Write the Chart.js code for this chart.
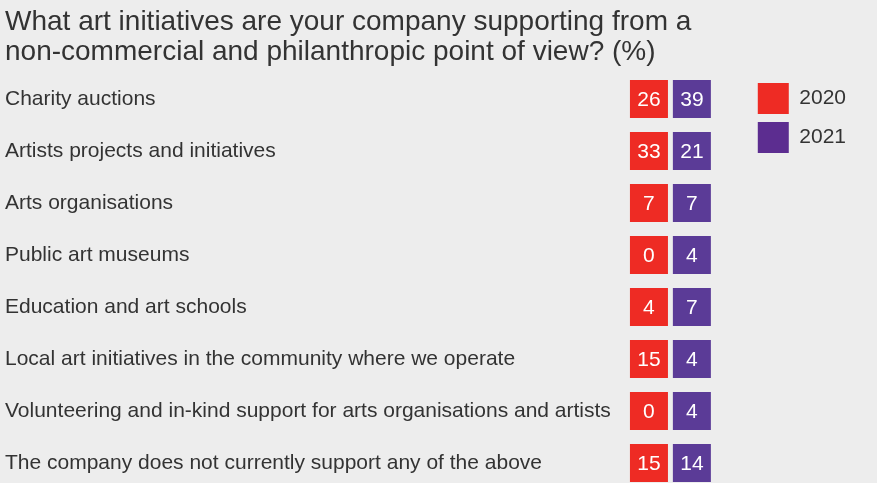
<!DOCTYPE html>
<html>
<head>
<meta charset="utf-8">
<script src="https://cdn.jsdelivr.net/npm/chart.js@4.4.0/dist/chart.umd.min.js"></script>
<style>
  html, body { margin: 0; padding: 0; background: #ededed; }
  #chart-box { width: 877px; height: 483px; }
</style>
</head>
<body>
<div id="chart-box"><canvas id="initiatives-chart"></canvas></div>
<script>
var titleLines = [
  'What art initiatives are your company supporting from a',
  'non-commercial and philanthropic point of view? (%)'
];
var categories = [
  'Charity auctions',
  'Artists projects and initiatives',
  'Arts organisations',
  'Public art museums',
  'Education and art schools',
  'Local art initiatives in the community where we operate',
  'Volunteering and in-kind support for arts organisations and artists',
  'The company does not currently support any of the above'
];
var years = ['2020', '2021'];
var values2020 = [26, 33, 7, 0, 4, 15, 0, 15];
var values2021 = [39, 21, 7, 4, 7, 4, 4, 14];

var cellColors = ['#ee2b24', '#5b3b97'];
var legendColors = ['#ee2b24', '#5c2d90'];
var textColor = '#333333';
var fontFamily = '"Liberation Sans", Arial, Helvetica, sans-serif';

// one square per category, placed in the year's column
function toCells(values, column) {
  var cells = [];
  for (var i = 0; i < values.length; i++) {
    cells.push({x: column, y: i, value: values[i]});
  }
  return cells;
}

// writes each value in the middle of its square
var cellLabels = {
  id: 'cellLabels',
  afterDatasetsDraw: function(chart) {
    var ctx = chart.ctx;
    ctx.save();
    ctx.font = '21px ' + fontFamily;
    ctx.fillStyle = '#ffffff';
    ctx.textAlign = 'center';
    ctx.textBaseline = 'middle';
    chart.data.datasets.forEach(function(dataset, d) {
      chart.getDatasetMeta(d).data.forEach(function(point, i) {
        ctx.fillText(String(dataset.data[i].value), point.x, point.y + 1);
      });
    });
    ctx.restore();
  }
};

var cellRadius = 19 * Math.SQRT2; // rect point style -> 38px square

var chart = new Chart(document.getElementById('initiatives-chart'), {
  type: 'scatter',
  data: {
    datasets: [
      {label: years[0], data: toCells(values2020, 0), backgroundColor: cellColors[0], borderWidth: 0,
        pointStyle: 'rect', pointRadius: cellRadius, pointHoverRadius: cellRadius},
      {label: years[1], data: toCells(values2021, 1), backgroundColor: cellColors[1], borderWidth: 0,
        pointStyle: 'rect', pointRadius: cellRadius, pointHoverRadius: cellRadius}
    ]
  },
  options: {
    responsive: true,
    maintainAspectRatio: false,
    animation: false,
    events: [],
    // big squares would otherwise add padding under the last row
    layout: {autoPadding: false, padding: {left: 5, right: 21, top: 0, bottom: 0}},
    scales: {
      x: {display: false, bounds: 'data', min: -0.558, max: 2.349},
      y: {
        reverse: true,
        bounds: 'data',
        min: -0.4615,
        max: 7.385,
        grid: {display: false},
        border: {display: false},
        afterBuildTicks: function(scale) {
          scale.ticks = categories.map(function(c, i) { return {value: i}; });
        },
        afterFit: function(scale) {
          scale.width = 620;
          scale.paddingTop = 0;
          scale.paddingBottom = 0;
        },
        ticks: {
          crossAlign: 'far',
          padding: 0,
          color: textColor,
          font: {family: fontFamily, size: 21},
          callback: function(v) { return categories[v]; }
        }
      }
    },
    plugins: {
      title: {
        display: true,
        text: titleLines,
        align: 'start',
        color: textColor,
        font: {family: fontFamily, size: 28, weight: 'normal', lineHeight: '30px'},
        padding: {top: 7, bottom: 8}
      },
      legend: {
        position: 'right',
        align: 'start',
        fullSize: false,
        labels: {
          boxWidth: 31,
          boxHeight: 31,
          padding: 8,
          color: textColor,
          font: {family: fontFamily, size: 21},
          generateLabels: function() {
            return years.map(function(y, i) {
              return {text: y, fillStyle: legendColors[i], strokeStyle: legendColors[i], lineWidth: 0,
                fontColor: textColor, hidden: false, datasetIndex: i};
            });
          }
        }
      },
      tooltip: {enabled: false}
    }
  },
  plugins: [cellLabels]
});
</script>
</body>
</html>
